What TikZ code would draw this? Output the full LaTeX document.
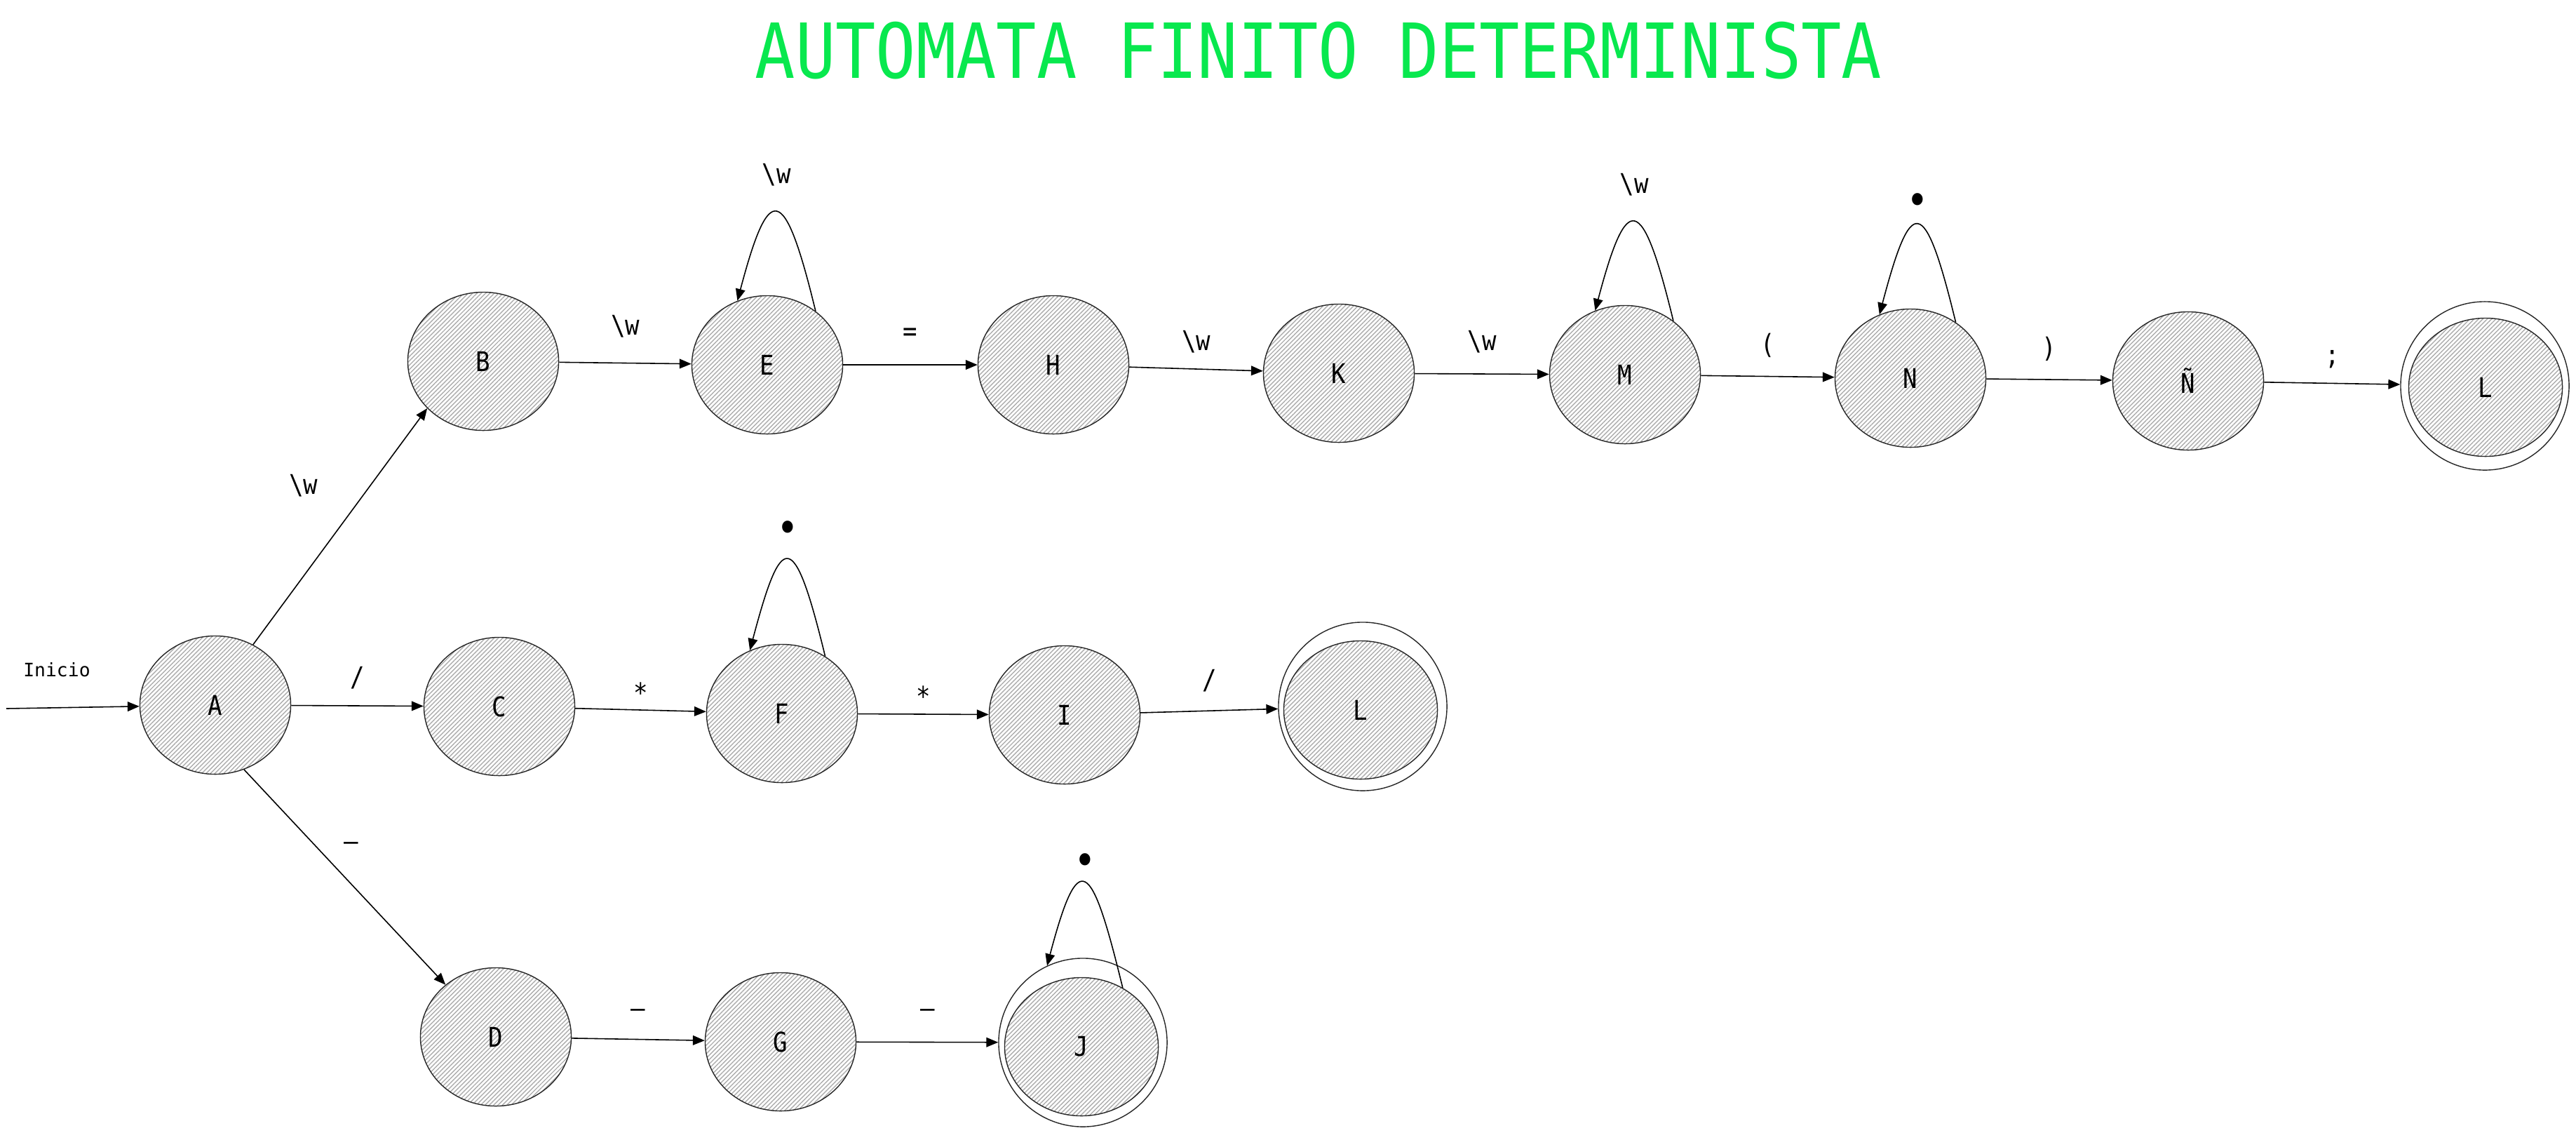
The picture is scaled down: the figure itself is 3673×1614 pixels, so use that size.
\documentclass[tikz,border=0pt]{standalone}
\usepackage{fontspec}
\usepackage{tikz}
\usetikzlibrary{shapes.geometric, arrows.meta, patterns.meta}
\newfontfamily\monofont[FakeStretch=0.88]{DejaVu Sans Mono}
\newfontfamily\startfont{DejaVu Sans Mono}
\definecolor{titleGreen}{RGB}{8,232,78}
\tikzset{
	state/.style={
		ellipse,
		draw=black!85,
		line width=0.4pt,
		inner sep=0pt,
		minimum width=2.15cm,
		minimum height=1.97cm,
		pattern={Lines[angle=45, distance=1.25pt, line width=0.4pt]},
		pattern color=gray!65,
		font=\monofont\fontsize{11}{13}\selectfont
	},
	acceptState/.style={
		state,
		minimum width=2.19cm
	},
	finalRing/.style={
		circle,
		draw=black!85,
		line width=0.4pt,
		inner sep=0pt,
		minimum size=2.4cm
	},
	flow/.style={
		draw=black,
		line width=0.45pt,
		-{Triangle[length=4.8pt, width=3.9pt]}
	},
	edgeLabel/.style={
		font=\monofont\fontsize{11}{13}\selectfont,
		inner sep=0pt
	},
	dotLabel/.style={
		font=\monofont\fontsize{17}{19}\selectfont,
		inner sep=0pt
	},
	startLabel/.style={
		font=\startfont\fontsize{7.5}{9}\selectfont,
		inner sep=0pt
	},
	title/.style={
		text=titleGreen,
		inner sep=0pt,
		font=\monofont\fontsize{30.8}{34}\selectfont
	},
}

\begin{document}
\begin{tikzpicture}[x=0.01cm, y=-0.01cm]
	\useasboundingbox (0,0) rectangle (3673,1614);

	% title
	\node [title] (title) at (1880,72) {AUTOMATA FINITO DETERMINISTA};

	% start
	\coordinate (start) at (9,1010);
	\node [startLabel] (inicio) at (81,955) {Inicio};
	\node [state] (A) at (307,1005) {A};

	% upper branch
	\node [state] (B) at (689,515) {B};
	\node [state] (E) at (1094,520) {E};
	\node [state] (H) at (1502,520) {H};
	\node [state] (K) at (1909,532) {K};
	\node [state] (M) at (2317,534) {M};
	\node [state] (N) at (2724,539) {N};
	\node [state] (Nt) at (3120,543) {Ñ};
	\node [acceptState] (L1) at (3544,552) {L};
	\node [finalRing] (L1o) at (3543,550) {};

	% middle branch
	\node [state] (C) at (712,1007) {C};
	\node [state] (F) at (1115,1017) {F};
	\node [state] (I) at (1518,1019) {I};
	\node [acceptState] (L2) at (1940,1012) {L};
	\node [finalRing] (L2o) at (1943,1007) {};

	% lower branch
	\node [state] (D) at (707,1478) {D};
	\node [state] (G) at (1113,1485) {G};
	\node [acceptState] (J) at (1542,1492) {J};
	\node [finalRing] (Jo) at (1544,1486) {};

	% transitions from A
	\draw [flow] (start) -- (A);
	\draw [flow] (A.58) -- (B.-140) node [edgeLabel, midway, xshift=-14.8pt, yshift=16.5pt] {\textbackslash w};
	\draw [flow] (A) -- (C) node [edgeLabel, midway, yshift=11.4pt] {/};
	\draw [flow] (A.-66) -- (D.134) node [edgeLabel, midway, xshift=2.6pt, yshift=12.5pt] {–};

	% upper chain
	\draw [flow] (B) -- (E) node [edgeLabel, midway, yshift=14.8pt] {\textbackslash w};
	\draw [flow] (E) -- (H) node [edgeLabel, midway, yshift=12.2pt] {=};
	\draw [flow] (H) -- (K) node [edgeLabel, midway, yshift=11.1pt] {\textbackslash w};
	\draw [flow] (K) -- (M) node [edgeLabel, midway, yshift=13pt] {\textbackslash w};
	\draw [flow] (M) -- (N) node [edgeLabel, midway, yshift=12.5pt] {(};
	\draw [flow] (N) -- (Nt) node [edgeLabel, midway, yshift=12.5pt] {)};
	\draw [flow] (Nt) -- (L1o) node [edgeLabel, midway, yshift=9.6pt] {;};

	% middle chain
	\draw [flow] (C) -- (F) node [edgeLabel, midway, yshift=7pt] {*};
	\draw [flow] (F) -- (I) node [edgeLabel, midway, yshift=7.5pt] {*};
	\draw [flow] (I) -- (L2o) node [edgeLabel, midway, yshift=12.2pt] {/};

	% lower chain
	\draw [flow] (D) -- (G) node [edgeLabel, midway, yshift=10.5pt] {–};
	\draw [flow] (G) -- (Jo) node [edgeLabel, midway, yshift=11.6pt] {–};

	% self loops
	\draw [flow] (E.48) .. controls +(-45,-185) and +(45,-170) .. (E.115) node [edgeLabel, midway, yshift=15.4pt] {\textbackslash w};
	\draw [flow] (M.48) .. controls +(-45,-185) and +(45,-170) .. (M.115) node [edgeLabel, midway, yshift=15.4pt] {\textbackslash w};
	\draw [flow] (N.51) .. controls +(-45,-185) and +(45,-170) .. (N.116) node [dotLabel, midway, yshift=8.5pt] {\textbullet};
	\draw [flow] (F.53) .. controls +(-45,-185) and +(45,-170) .. (F.117) node [dotLabel, midway, yshift=11.3pt] {\textbullet};
	\draw [flow] (J.55) .. controls +(-45,-185) and +(45,-170) .. (Jo.115) node [dotLabel, midway, yshift=7.6pt] {\textbullet};
\end{tikzpicture}
\end{document}
